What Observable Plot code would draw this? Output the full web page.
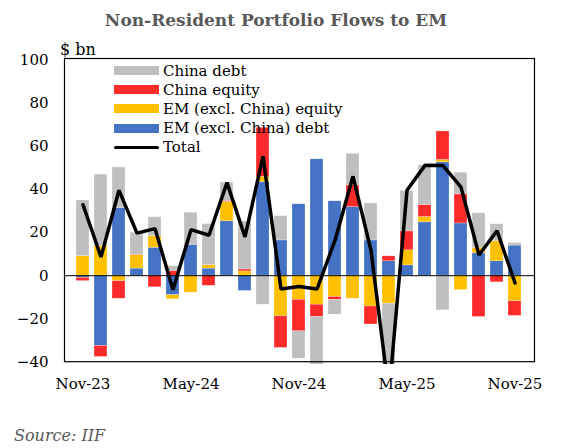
<!DOCTYPE html>
<html>
<head>
<meta charset="utf-8">
<script src="https://cdn.jsdelivr.net/npm/d3@7"></script>
<script src="https://cdn.jsdelivr.net/npm/@observablehq/plot@0.6"></script>
<style>
  html, body { margin: 0; padding: 0; background: #fff; }
  #wrap { position: relative; width: 572px; height: 448px; overflow: hidden; font-family: "DejaVu Serif", serif; }
  #title { position: absolute; left: 0; width: 552px; top: 10px; text-align: center; font-weight: bold; font-size: 17px; color: #595959; }
  #unit { position: absolute; left: 60px; top: 40px; font-size: 16px; color: #000; }
  #source { position: absolute; left: 14px; top: 426px; font-size: 16px; font-style: italic; color: #595959; }
  #legend { position: absolute; left: 114px; top: 61px; font-size: 15px; color: #000; }
  .row { height: 19.2px; display: flex; align-items: center; white-space: nowrap; }
  .sw { width: 45px; height: 9px; margin-right: 4px; flex: none; }
  .ln { width: 45px; height: 3.5px; margin-right: 4px; background: #000; border-radius: 2px; flex: none; }
</style>
</head>
<body>
<div id="wrap">
  <div id="title">Non-Resident Portfolio Flows to EM</div>
  <div id="unit">$ bn</div>
  <div id="chart"></div>
  <div id="legend"></div>
  <div id="source">Source: IIF</div>
</div>
<script>
const months = ["Nov-23","Dec-23","Jan-24","Feb-24","Mar-24","Apr-24","May-24","Jun-24","Jul-24","Aug-24","Sep-24","Oct-24","Nov-24","Dec-24","Jan-25","Feb-25","Mar-25","Apr-25","May-25","Jun-25","Jul-25","Aug-25","Sep-25","Oct-25","Nov-25"];
const xTicks = ["Nov-23","May-24","Nov-24","May-25","Nov-25"];
const yTicks = [-40, -20, 0, 20, 40, 60, 80, 100];

const emDebt      = [-1, -32.7, 31.5, 3.3, 13.0, -9.1, 14.3, 3.3, 25.3, -7.1, 43.6, 16.4, 33.2, 54.1, 34.6, 31.9, 16.4, 6.7, 4.8, 24.8, 52.7, 24.3, 10.4, 6.7, 14.0];
const emEquity    = [9.1, 13.8, -2.6, 6.2, 5.4, -1.9, -7.9, 1.6, 9.0, 2.0, 2.3, -18.9, -11.2, -13.5, -9.9, -10.7, -14.3, -13.0, 7.0, 2.5, 1.1, -6.7, 2.6, 9.3, -11.9];
const chinaEquity = [-1.5, -5.1, -8.1, 0.3, -5.4, 2.2, 0, -4.7, 0.5, 0.9, 22.9, -14.7, -14.7, -5.7, -1.4, 10.1, -8.4, 2.3, 8.8, 5.6, 13.3, 13.5, -19.2, -3.1, -6.8];
const chinaDebt   = [25.9, 33.2, 18.8, 10.2, 8.8, 2.2, 15.0, 19.1, 8.5, 22.3, -13.5, 11.3, -12.7, -41, -6.8, 14.7, 17.2, -51, 18.8, 18.4, -16.1, 10.1, 16.0, 7.9, 1.2];
const total       = [33.0, 8.7, 39.7, 19.8, 21.9, -6.5, 21.4, 18.8, 43.3, 18.0, 55.5, -6.2, -5.0, -6.2, 16.4, 46.2, 11.8, -55, 39.7, 51.3, 51.2, 41.2, 9.6, 20.9, -3.4];

const seriesNames = ["EM (excl. China) debt", "EM (excl. China) equity", "China equity", "China debt"];
const seriesColors = ["#4472C4", "#FFC000", "#FF2B2B", "#BFBFBF"];
const seriesValues = [emDebt, emEquity, chinaEquity, chinaDebt];
const legendOrder = ["China debt", "China equity", "EM (excl. China) equity", "EM (excl. China) debt"];

const rows = [];
months.forEach((m, i) => {
  seriesValues.forEach((arr, j) => rows.push({month: m, series: seriesNames[j], value: arr[i]}));
});
const totals = months.map((m, i) => ({month: m, value: total[i]}));

const chart = Plot.plot({
  width: 572,
  height: 448,
  marginLeft: 64,
  marginRight: 38,
  marginTop: 58,
  marginBottom: 84,
  style: {fontFamily: "DejaVu Serif, serif", fontSize: "15px", color: "#000", background: "transparent"},
  x: {type: "band", domain: months, paddingInner: 0.27, paddingOuter: 0.135, label: null},
  y: {domain: [-41.3, 101], label: null},
  color: {domain: seriesNames, range: seriesColors},
  marks: [
    Plot.barY(rows, {x: "month", y: "value", fill: "series", order: seriesNames, stroke: "#fff", strokeOpacity: 0.5, strokeWidth: 0.5, clip: true}),
    Plot.ruleY([0], {stroke: "#000", strokeWidth: 1}),
    Plot.line(totals, {x: "month", y: "value", stroke: "#000", strokeWidth: 3.5, strokeLinejoin: "miter", clip: true}),
    Plot.frame({stroke: "#000", strokeWidth: 1.2, insetBottom: 2.8}),
    Plot.axisY({ticks: yTicks, tickSize: 0, tickPadding: 16, label: null}),
    Plot.axisX({ticks: xTicks, tickSize: 0, tickPadding: 14, label: null})
  ]
});
document.getElementById("chart").appendChild(chart);

const legend = document.getElementById("legend");
legendOrder.forEach(name => {
  const r = document.createElement("div");
  r.className = "row";
  const s = document.createElement("span");
  s.className = "sw";
  s.style.background = seriesColors[seriesNames.indexOf(name)];
  r.appendChild(s);
  r.appendChild(document.createTextNode(name));
  legend.appendChild(r);
});
const tr = document.createElement("div");
tr.className = "row";
const tl = document.createElement("span");
tl.className = "ln";
tr.appendChild(tl);
tr.appendChild(document.createTextNode("Total"));
legend.appendChild(tr);
</script>
</body>
</html>
